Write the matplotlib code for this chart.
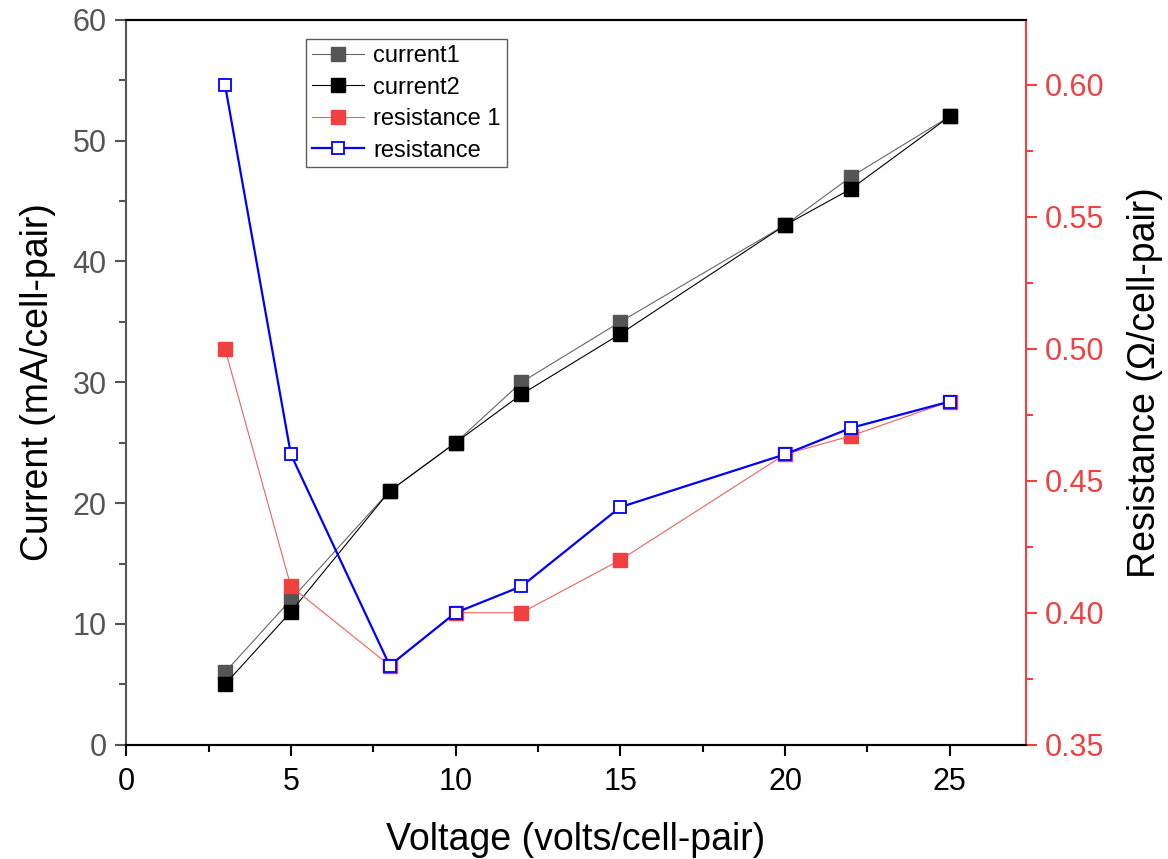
import matplotlib
matplotlib.use("Agg")
import matplotlib.pyplot as plt
from matplotlib.ticker import MultipleLocator

plt.rcParams['font.family'] = ['Liberation Sans', 'DejaVu Sans']

# measurements
voltage = [3, 5, 8, 10, 12, 15, 20, 22, 25]
current1 = [6, 12, 21, 25, 30, 35, 43, 47, 52]
current2 = [5, 11, 21, 25, 29, 34, 43, 46, 52]
resistance1 = [0.50, 0.41, 0.38, 0.40, 0.40, 0.42, 0.46, 0.467, 0.48]
resistance = [0.60, 0.46, 0.38, 0.40, 0.41, 0.44, 0.46, 0.47, 0.48]

GREY = '#555555'
RED = '#f04040'
BLUE = '#0000ff'

fig = plt.figure(figsize=(11.68, 8.59), dpi=100)
ax = fig.add_axes([0.108, 0.133, 0.770, 0.844])
ax2 = ax.twinx()

l1, = ax.plot(voltage, current1, '-s', color='#666666', lw=0.8, ms=10,
              mfc=GREY, mec=GREY, label='current1')
l2, = ax.plot(voltage, current2, '-s', color='black', lw=0.8, ms=10,
              mfc='black', mec='black', label='current2')
l3, = ax2.plot(voltage, resistance1, '-s', color='#f06060', lw=0.8, ms=10,
               mfc=RED, mec=RED, label='resistance 1')
l4, = ax2.plot(voltage, resistance, '-s', color=BLUE, lw=1.6, ms=9,
               mfc='white', mec=BLUE, mew=1.3, label='resistance')

ax.set_xlim(0, 27.3)
ax.set_ylim(0, 60)
ax2.set_ylim(0.35, 0.6246)

ax.xaxis.set_major_locator(MultipleLocator(5))
ax.xaxis.set_minor_locator(MultipleLocator(2.5))
ax.yaxis.set_major_locator(MultipleLocator(10))
ax.yaxis.set_minor_locator(MultipleLocator(5))
ax2.yaxis.set_major_locator(MultipleLocator(0.05))
ax2.yaxis.set_minor_locator(MultipleLocator(0.025))
ax2.yaxis.set_major_formatter(plt.FormatStrFormatter('%.2f'))

ax.tick_params(axis='x', which='major', direction='out', length=8, width=1.5,
               labelsize=22, pad=8, colors='black')
ax.tick_params(axis='x', which='minor', direction='out', length=5, width=1.5)
ax.tick_params(axis='y', which='major', direction='out', length=8, width=1.5,
               labelsize=22, colors=GREY, pad=6)
ax.tick_params(axis='y', which='minor', direction='out', length=5, width=1.5,
               colors=GREY)
ax2.tick_params(axis='y', which='major', direction='out', length=8, width=1.5,
                labelsize=22, colors=RED, pad=6)
ax2.tick_params(axis='y', which='minor', direction='out', length=5, width=1.5,
                colors=RED)

for a in (ax, ax2):
    a.spines['top'].set_linewidth(1.5)
    a.spines['bottom'].set_linewidth(1.5)
ax.spines['left'].set_color(GREY)
ax.spines['left'].set_linewidth(1.5)
ax2.spines['right'].set_color(RED)
ax2.spines['right'].set_linewidth(1.5)
ax2.spines['left'].set_visible(False)
ax.spines['right'].set_visible(False)

ax.set_xlabel('Voltage (volts/cell-pair)', fontsize=27, labelpad=18)
ax.set_ylabel('Current (mA/cell-pair)', fontsize=27, labelpad=12)
ax2.set_ylabel('Resistance (\u03a9/cell-pair)', fontsize=27, labelpad=16,
               rotation=90)

leg = ax2.legend(handles=[l1, l2, l3, l4], loc='upper left',
                 bbox_to_anchor=(0.2, 0.973), fontsize=17, frameon=True,
                 fancybox=False, borderpad=0.25, labelspacing=0.4,
                 handlelength=2.2, handletextpad=0.4, borderaxespad=0)
leg.get_frame().set_edgecolor('#333333')
leg.get_frame().set_linewidth(1.0)

fig.savefig('out.png', dpi=100)
